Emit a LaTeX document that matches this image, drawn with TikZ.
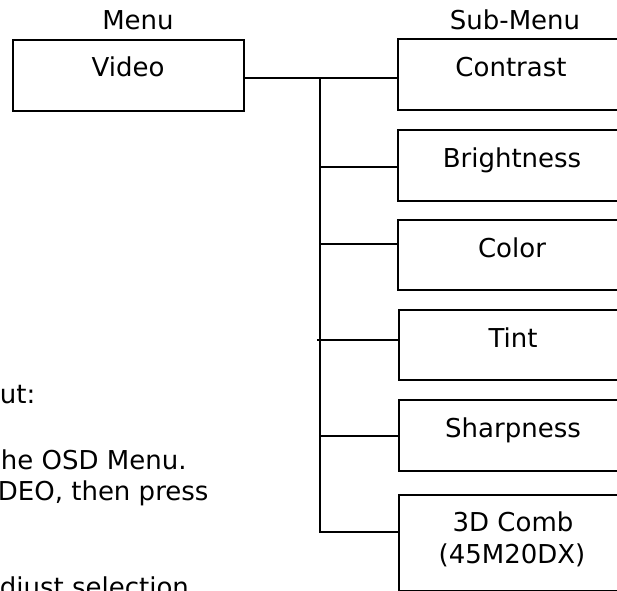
\documentclass[tikz,border=0pt]{standalone}
\usepackage{fontspec}
\setmainfont{DejaVu Sans}
\begin{document}
\begin{tikzpicture}[x=1pt,y=-1pt, line width=1.8pt,
  boxst/.style={draw, rectangle, inner sep=0pt, anchor=north west, minimum width=230pt},
  lbl/.style={inner sep=0pt, anchor=base, font=\fontsize{26}{32}\selectfont},
  para/.style={inner sep=0pt, anchor=base west, font=\fontsize{26}{32}\selectfont}]
\useasboundingbox (0,0) rectangle (617,590);
% boxes
\node[boxst, minimum width=231pt, minimum height=71pt] (video) at (12,39) {};
\node[boxst, minimum height=71pt] (contrast) at (397,38) {};
\node[boxst, minimum height=71pt] (bright) at (397,129) {};
\node[boxst, minimum height=70pt] (color) at (397,219) {};
\node[boxst, minimum height=70pt] (tint) at (398,309) {};
\node[boxst, minimum height=71pt] (sharp) at (398,399) {};
\node[boxst, minimum height=96pt] (comb) at (398,494) {};
% labels
\node[lbl] (menulbl) at (138,29) {Menu};
\node[lbl] (sublbl) at (515,29) {Sub-Menu};
\node[lbl] (videotxt) at (128,76) {Video};
\node[lbl] (contrasttxt) at (511,76) {Contrast};
\node[lbl] (brighttxt) at (512,167) {Brightness};
\node[lbl] (colortxt) at (512,257) {Color};
\node[lbl] (tinttxt) at (513,347) {Tint};
\node[lbl] (sharptxt) at (513,437) {Sharpness};
\node[lbl] (combtxt) at (513,531) {3D Comb};
\node[lbl] (combtxtb) at (512,563) {(45M20DX)};
% connectors
\coordinate (hub) at (320,78);
\coordinate (jb) at (320,167);
\coordinate (jc) at (320,244);
\coordinate (jt) at (317,340);
\coordinate (js) at (320,436);
\coordinate (jd) at (320,532);
\draw (video.east |- hub) -- (hub) -- (contrast.west |- hub);
\draw (hub) -- (jd) -- (comb.west |- jd);
\draw (jb) -- (bright.west |- jb);
\draw (jc) -- (color.west |- jc);
\draw (jt) -- (tint.west |- jt);
\draw (js) -- (sharp.west |- js);
% partial text at left
\node[para] (p1) at (-1,403) {ut:};
\node[para] (p2) at (0,469) {he OSD Menu.};
\node[para] (p3) at (-3,500) {DEO, then press};
\node[para] (p4) at (-1,596) {djust selection};
\end{tikzpicture}
\end{document}
